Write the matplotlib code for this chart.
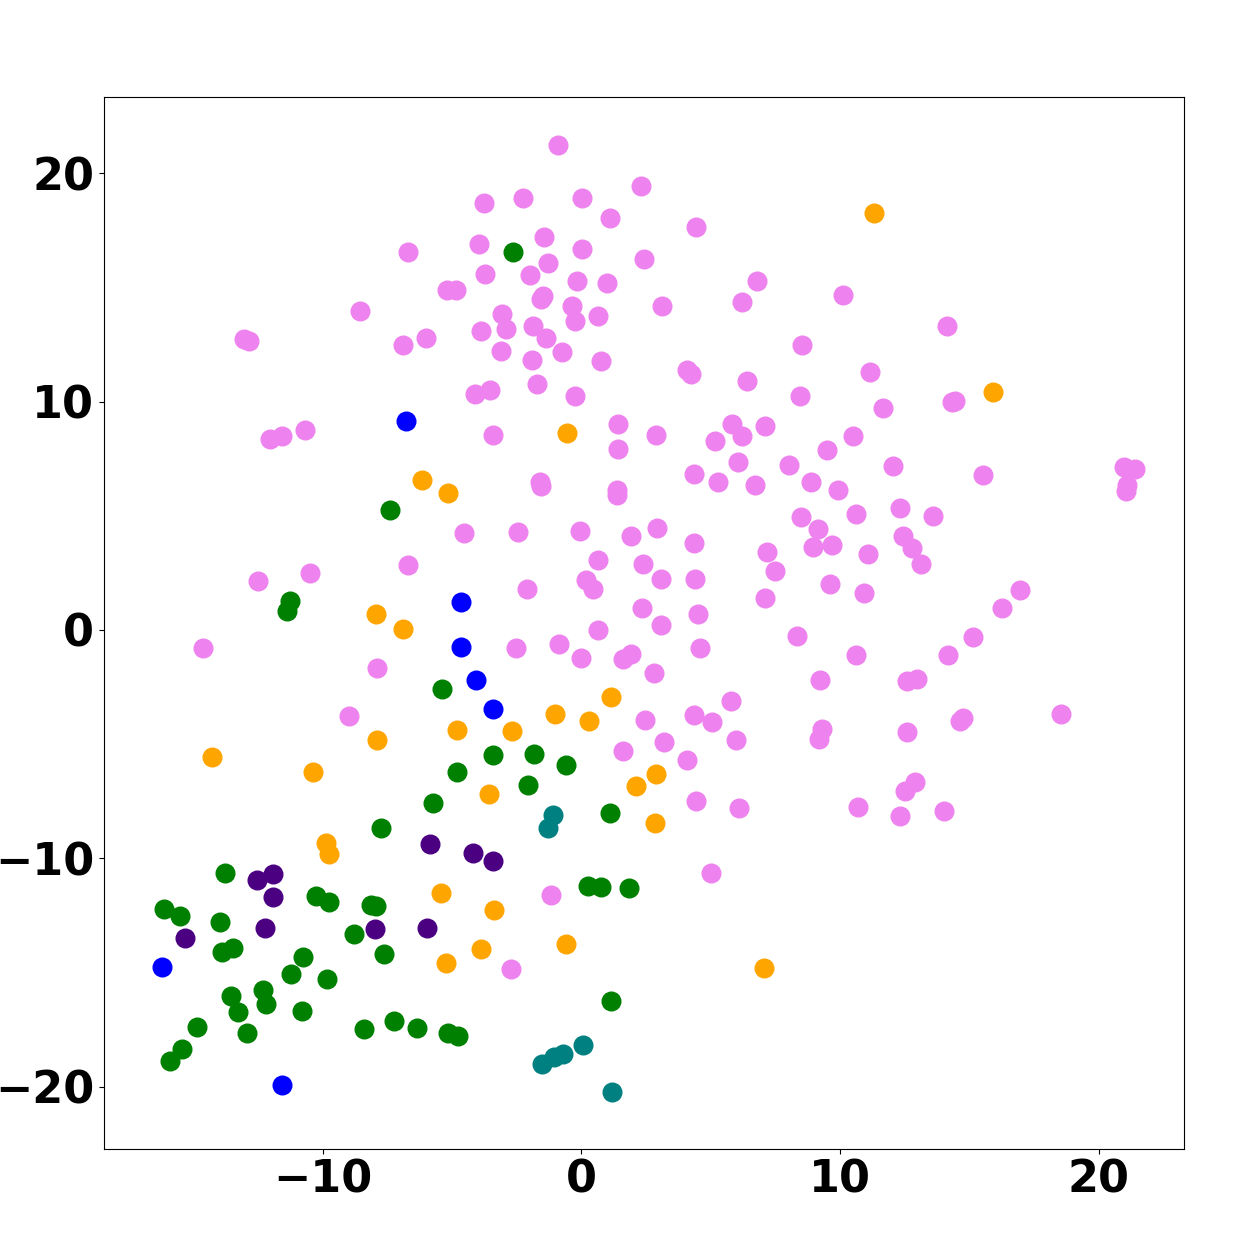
import matplotlib
matplotlib.use("Agg")
from matplotlib import pyplot as plt

# t-SNE style embedding, one list pair per class
violet_x = [-0.89, 2.32, -3.75, -2.25, 0.04, 1.10, -6.69, -3.97, -1.45, 0.04,
            2.41, -3.71, -1.98, -1.29, -0.15, 1.01, -5.20, -4.84, -1.48, -1.57,
            -0.36, -0.23, 0.65, 3.12, -3.05, -2.91, -3.88, -1.86, -1.36, -6.90,
            -5.99, -3.09, -0.76, -1.89, 0.77, -1.72, -4.11, -3.52, -0.23, -3.40,
            1.41, 1.41, 2.89, -8.55, -13.04, -12.84, -12.03, -11.57, -10.68, 4.45,
            6.78, 6.20, 10.12, 8.53, 4.07, 4.23, 6.42, 11.17, 8.44, 11.66,
            5.18, 5.84, 6.20, 7.11, 10.50, 9.50, 14.12, 14.33, 14.45, -1.60,
            -1.56, 1.37, 1.39, -4.53, -2.44, -0.05, 1.93, 2.94, -6.70, 0.65,
            2.39, -2.09, 0.19, 0.44, 2.36, 0.65, -2.51, -0.85, -0.01, 1.62,
            1.93, -7.89, 2.81, 2.45, 1.62, -12.51, -10.48, -14.62, -8.98, 4.34,
            6.07, 5.28, 6.73, 8.04, 8.88, 9.93, 12.05, 4.34, 8.48, 10.63,
            12.32, 9.15, 8.96, 9.68, 12.45, 12.79, 13.12, 7.18, 11.08, 3.07,
            4.40, 7.48, 7.09, 9.63, 10.92, 3.07, 4.52, 4.58, 8.35, 10.63,
            9.24, 12.58, 12.99, 5.80, 4.36, 5.05, 5.98, 9.32, 9.19, 12.58,
            3.21, 4.10, 4.45, 6.11, 10.68, 12.51, 12.89, 12.32, 20.99, 21.39,
            21.11, 21.07, 15.53, 13.59, 16.95, 16.27, 15.14, 14.16, 18.53, 14.74,
            14.63, 14.02, 5.01, -1.16, -2.73]
violet_y = [21.24, 19.44, 18.70, 18.90, 18.90, 18.06, 16.55, 16.92, 17.20, 16.70,
            16.25, 15.60, 15.56, 16.07, 15.27, 15.21, 14.90, 14.88, 14.61, 14.51,
            14.17, 13.52, 13.76, 14.17, 13.82, 13.17, 13.08, 13.32, 12.77, 12.47,
            12.77, 12.23, 12.17, 11.82, 11.77, 10.78, 10.33, 10.52, 10.26, 8.54,
            9.03, 7.91, 8.52, 13.97, 12.74, 12.65, 8.37, 8.49, 8.76, 17.66,
            15.27, 14.36, 14.67, 12.47, 11.40, 11.20, 10.92, 11.31, 10.23, 9.73,
            8.29, 9.03, 8.48, 8.93, 8.48, 7.87, 13.31, 9.98, 10.03, 6.48,
            6.30, 6.11, 5.90, 4.24, 4.29, 4.33, 4.10, 4.45, 2.84, 3.05,
            2.90, 1.80, 2.17, 1.80, 0.96, 0.01, -0.79, -0.60, -1.24, -1.26,
            -1.07, -1.68, -1.89, -3.93, -5.32, 2.14, 2.49, -0.79, -3.78, 6.84,
            7.34, 6.49, 6.33, 7.24, 6.49, 6.14, 7.18, 3.81, 4.95, 5.09,
            5.34, 4.42, 3.63, 3.71, 4.10, 3.60, 2.90, 3.40, 3.34, 2.22,
            2.24, 2.59, 1.40, 2.01, 1.62, 0.20, 0.71, -0.79, -0.28, -1.10,
            -2.18, -2.25, -2.14, -3.13, -3.74, -4.05, -4.84, -4.35, -4.79, -4.47,
            -4.91, -5.69, -7.49, -7.81, -7.77, -7.07, -6.66, -8.16, 7.14, 7.03,
            6.33, 6.07, 6.78, 4.99, 1.75, 0.95, -0.30, -1.09, -3.68, -3.87,
            -3.99, -7.93, -10.66, -11.63, -14.85]

orange_x = [11.31, 15.93, -0.54, -6.17, -5.15, -7.94, -6.88, -14.26, -10.36, -7.89,
            1.14, -1.03, 0.30, -4.80, -2.69, -3.57, 2.10, 2.86, 2.90, -9.88,
            -9.74, -5.42, -3.36, -3.89, -0.58, -5.24, 7.06]
orange_y = [18.25, 10.42, 8.62, 6.58, 5.98, 0.71, 0.05, -5.58, -6.22, -4.84,
            -2.94, -3.68, -3.99, -4.38, -4.43, -7.17, -6.82, -8.47, -6.33, -9.32,
            -9.83, -11.51, -12.26, -13.96, -13.75, -14.60, -14.80]

green_x = [-2.65, -7.39, -11.27, -11.36, -5.38, -3.40, -1.82, -0.58, -4.80, -2.07,
           -5.73, 1.12, -7.74, -13.78, -16.13, -15.50, -13.97, -10.26, -9.74, -8.14,
           -7.95, -8.77, -7.61, -13.89, -13.47, -10.76, -11.23, -9.83, -13.53, -13.27,
           -12.29, -12.20, -10.80, -14.84, -12.91, -8.41, -15.42, -15.90, 0.25, 0.75,
           1.84, 1.16, -7.23, -6.34, -5.16, -4.75]
green_y = [16.55, 5.24, 1.27, 0.81, -2.59, -5.48, -5.42, -5.93, -6.22, -6.78,
           -7.58, -8.02, -8.66, -10.66, -12.23, -12.54, -12.81, -11.66, -11.92, -12.06,
           -12.09, -13.31, -14.20, -14.11, -13.92, -14.31, -15.06, -15.30, -16.04, -16.75,
           -15.76, -16.37, -16.69, -17.39, -17.64, -17.48, -18.34, -18.90, -11.22, -11.27,
           -11.31, -16.24, -17.14, -17.44, -17.64, -17.79]

blue_x = [-6.79, -4.65, -4.66, -4.06, -3.40, -16.21, -11.58]
blue_y = [9.14, 1.21, -0.75, -2.18, -3.48, -14.75, -19.93]

indigo_x = [-12.52, -11.93, -11.93, -12.24, -15.32, -7.99, -5.86, -4.19, -3.40, -5.95]
indigo_y = [-10.96, -10.68, -11.70, -13.06, -13.51, -13.11, -9.38, -9.77, -10.12, -13.06]

teal_x = [-1.11, -1.29, 0.08, -1.51, -1.06, -0.71, 1.18]
teal_y = [-8.11, -8.66, -18.20, -19.00, -18.71, -18.56, -20.24]

fig = plt.figure(figsize=(12.56, 12.51), dpi=100)
ax = fig.add_axes([0.0828, 0.0818, 0.8599, 0.8407])

s = 180
ax.scatter(violet_x, violet_y, c='violet', s=s)
ax.scatter(orange_x, orange_y, c='orange', s=s)
ax.scatter(green_x, green_y, c='green', s=s)
ax.scatter(blue_x, blue_y, c='blue', s=s)
ax.scatter(indigo_x, indigo_y, c='indigo', s=s)
ax.scatter(teal_x, teal_y, c='teal', s=s)

ax.set_xlim(-18.45, 23.30)
ax.set_ylim(-22.72, 23.34)
ax.set_xticks([-10, 0, 10, 20])
ax.set_yticks([-20, -10, 0, 10, 20])
for lab in ax.get_xticklabels() + ax.get_yticklabels():
    lab.set_fontsize(32)
    lab.set_fontweight('bold')

plt.savefig('out.png', dpi=100)
